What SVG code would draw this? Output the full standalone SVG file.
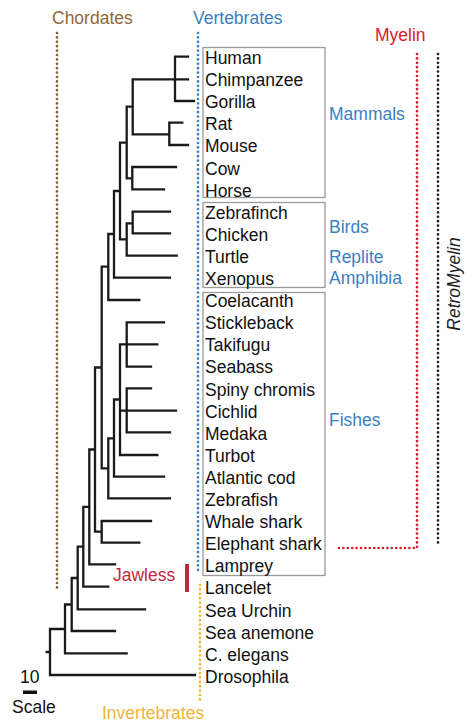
<svg xmlns="http://www.w3.org/2000/svg" width="466" height="726" viewBox="0 0 466 726">
<style>
text{font-family:"Liberation Sans",Arial,sans-serif;font-size:17.5px}
.leaf{fill:#111}
.blue{fill:#3a80c2}
.br{stroke:#1a1a1a;stroke-width:2.3;fill:none;stroke-linecap:square}
.box{fill:none;stroke:#9a9a9a;stroke-width:1.3}
.dot{fill:none;stroke-width:2.7;stroke-linecap:round;stroke-dasharray:0 4.4}
</style>
<rect width="466" height="726" fill="#fff"/>
<g id="annotations">
<text x="52" y="24" fill="#94673a">Chordates</text>
<path class="dot" stroke="#8c5f33" d="M57 33 V590"/>
<text x="193" y="24" class="blue">Vertebrates</text>
<path class="dot" stroke="#3a80c2" d="M198 33 V571"/>
<text x="102" y="719" fill="#f0b43c">Invertebrates</text>
<path class="dot" stroke="#f2b53c" d="M200 585 V702"/>
<text x="375" y="41" fill="#d8202a">Myelin</text>
<path class="dot" stroke="#d8202a" d="M417 54 V548 H337"/>
<path class="dot" stroke="#222" d="M438 54 V545"/>
<text transform="translate(460,284) rotate(-90)" text-anchor="middle" font-style="italic" fill="#222">RetroMyelin</text>
<text x="113" y="581" fill="#c3283a">Jawless</text>
<rect x="185" y="564" width="4" height="28" fill="#c3283a"/>
<text x="20" y="683" fill="#111">10</text>
<rect x="23" y="690.5" width="14" height="3.5" fill="#111"/>
<text x="12" y="713" fill="#111">Scale</text>
</g>
<g id="groups">
<rect class="box" x="203" y="47.5" width="122" height="150"/>
<rect class="box" x="203" y="202.5" width="122" height="85"/>
<rect class="box" x="203" y="292.5" width="122" height="283"/>
<text x="329" y="120" class="blue">Mammals</text>
<text x="329" y="233" class="blue">Birds</text>
<text x="329" y="263" class="blue">Replite</text>
<text x="329" y="284" class="blue">Amphibia</text>
<text x="329" y="426" class="blue">Fishes</text>
</g>
<g id="connectors">
<path class="br" d="M175 56.7 H188 M175 56.7 V101 H194 M132.7 79.3 H188
M169.3 122.7 H182.3 M169.3 122.7 V145 H188 M132.7 134.3 H169.3
M132.7 79.3 V134.3 M126.7 106.7 H132.7
M132.3 167 H176 M132.3 167 V189.3 H164 M126.7 178.3 H132.3
M126.7 106.7 V178.3 M120 142.7 H126.7
M132.7 211.7 H170 M132.7 211.7 V233.3 H170 M126.7 223.3 H132.7
M126.7 255.7 H176.7 M126.7 223.3 V255.7 M120 239.3 H126.7
M120 142.7 V239.3 M114 191 H120
M114 277.7 H170 M114 191 V277.7 M108.3 234 H114
M108.3 300 H139.3 M108.3 234 V300 M101.7 266.7 H108.3
M126.7 322.3 H164 M126.7 366.7 H151 M126.7 322.3 V366.7 M120 344.3 H157.3
M126.7 388.3 H151 M126.7 432.3 H170 M126.7 388.3 V432.3 M120 410.7 H176
M120 455 H157.3 M120 344.3 V455 M114 399.5 H120
M114 476.7 H164 M114 399.5 V476.7 M108.3 438.3 H114
M108.3 498.3 H170 M108.3 438.3 V498.3 M101.7 468.3 H108.3
M101.7 266.7 V468.3 M95 367.5 H101.7
M101.7 521 H151 M101.7 542.7 H139.3 M101.7 521 V542.7 M95 531.7 H101.7
M95 367.5 V531.7 M89.3 449.5 H95
M89.3 564.3 H115 M89.3 449.5 V564.3 M83.3 506.8 H89.3
M83.3 586.7 H108.3 M83.3 506.8 V586.7 M77.7 546.7 H83.3
M77.7 609.3 H145 M77.7 546.7 V609.3 M71.7 578 H77.7
M71.7 631 H115 M71.7 578 V631 M65 604.5 H71.7
M65 653.3 H126.7 M65 604.5 V653.3 M50 629 H65
M50 675 H195 M50 629 V675 M46.7 652 H50"/>
</g>
<g id="leaves" class="leaf">
<g id="n-human"><text x="205" y="64">Human</text></g>
<g id="n-chimpanzee"><text x="205" y="86.1">Chimpanzee</text></g>
<g id="n-gorilla"><text x="205" y="108.2">Gorilla</text></g>
<g id="n-rat"><text x="205" y="130.3">Rat</text></g>
<g id="n-mouse"><text x="205" y="152.4">Mouse</text></g>
<g id="n-cow"><text x="205" y="174.5">Cow</text></g>
<g id="n-horse"><text x="205" y="196.6">Horse</text></g>
<g id="n-zebrafinch"><text x="205" y="218.7">Zebrafinch</text></g>
<g id="n-chicken"><text x="205" y="240.8">Chicken</text></g>
<g id="n-turtle"><text x="205" y="262.9">Turtle</text></g>
<g id="n-xenopus"><text x="205" y="285">Xenopus</text></g>
<g id="n-coelacanth"><text x="205" y="307.1">Coelacanth</text></g>
<g id="n-stickleback"><text x="205" y="329.2">Stickleback</text></g>
<g id="n-takifugu"><text x="205" y="351.3">Takifugu</text></g>
<g id="n-seabass"><text x="205" y="373.4">Seabass</text></g>
<g id="n-spiny"><text x="205" y="395.5">Spiny chromis</text></g>
<g id="n-cichlid"><text x="205" y="417.6">Cichlid</text></g>
<g id="n-medaka"><text x="205" y="439.7">Medaka</text></g>
<g id="n-turbot"><text x="205" y="461.8">Turbot</text></g>
<g id="n-cod"><text x="205" y="483.9">Atlantic cod</text></g>
<g id="n-zebrafish"><text x="205" y="506">Zebrafish</text></g>
<g id="n-whaleshark"><text x="205" y="528.1">Whale shark</text></g>
<g id="n-elephantshark"><text x="205" y="550.2">Elephant shark</text></g>
<g id="n-lamprey"><text x="205" y="572.3">Lamprey</text></g>
<g id="n-lancelet"><text x="205" y="594.4">Lancelet</text></g>
<g id="n-seaurchin"><text x="205" y="616.5">Sea Urchin</text></g>
<g id="n-seaanemone"><text x="205" y="638.6">Sea anemone</text></g>
<g id="n-celegans"><text x="205" y="660.7">C. elegans</text></g>
<g id="n-drosophila"><text x="205" y="682.8">Drosophila</text></g>
</g>
</svg>
